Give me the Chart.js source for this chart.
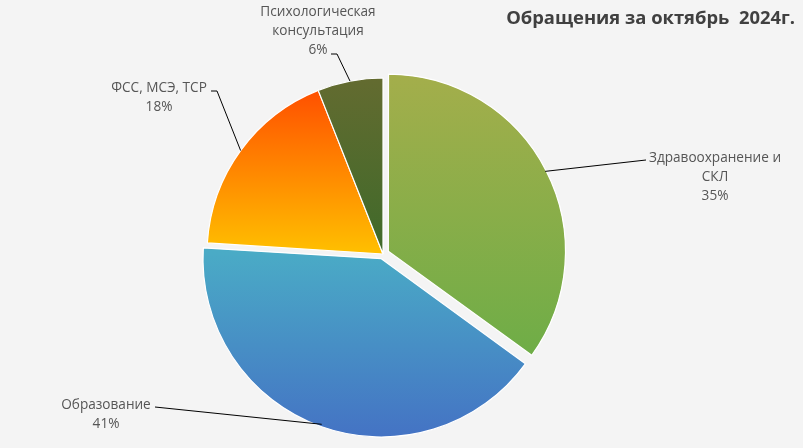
<!DOCTYPE html>
<html>
<head>
<meta charset="utf-8">
<script src="https://cdn.jsdelivr.net/npm/chart.js@4.4.1/dist/chart.umd.min.js"></script>
<style>
    html, body { margin: 0; padding: 0; background: #f4f4f4; }
    #wrap { width: 803px; height: 448px; position: relative; }
</style>
</head>
<body>
<div id="wrap"><canvas id="pie" width="803" height="448"></canvas></div>
<script>
// Chart data
const categories = [['Здравоохранение и', 'СКЛ'], ['Образование'], ['ФСС, МСЭ, ТСР'], ['Психологическая', 'консультация']];
const values = [35, 41, 18, 6];
const title = 'Обращения за октябрь  2024г.';

// Colours (gradient top -> bottom) and explode offsets
const gradTop = ['#a4ae4b', '#4aabc6', '#ff5000', '#636b30'];
const gradBottom = ['#6fad47', '#4472c4', '#ffc000', '#3f6a2a'];
const offsets = [24, 20, 0, 0];
const pieRadius = 176;

// Label layout: text anchor (center x, first line y), elbow point, line end near text
const labelLayout = [
    { x: 715, y: 158, elbow: [646, 160], end: [646, 160] },
    { x: 106, y: 405, elbow: [155, 407], end: [155, 407] },
    { x: 159, y: 88, elbow: [217, 91], end: [211, 91] },
    { x: 318, y: 12, elbow: [337, 54], end: [331, 54] }
];

const font = "'Open Sans', 'DejaVu Sans', sans-serif";

// vertical extent of a slice for the gradient
function sliceGradient(context) {
    const chart = context.chart;
    const area = chart.chartArea;
    const i = context.dataIndex;
    if (!area) return gradBottom[i];
    const total = values.reduce((a, b) => a + b, 0);
    let start = 0;
    for (let k = 0; k < i; k++) start += values[k];
    const a0 = start / total * Math.PI * 2 - Math.PI / 2;
    const a1 = (start + values[i]) / total * Math.PI * 2 - Math.PI / 2;
    const mid = (a0 + a1) / 2;
    const cx = (area.left + area.right) / 2 + Math.cos(mid) * offsets[i] / 4;
    const cy = (area.top + area.bottom) / 2 + Math.sin(mid) * offsets[i] / 4;
    const ys = [cy, cy + Math.sin(a0) * pieRadius, cy + Math.sin(a1) * pieRadius];
    if (a0 < Math.PI / 2 && a1 > Math.PI / 2) ys.push(cy + pieRadius);
    if (a0 < -Math.PI / 2 + 0.0001 || a1 > Math.PI * 1.5) ys.push(cy - pieRadius);
    const g = chart.ctx.createLinearGradient(0, Math.min(...ys), 0, Math.max(...ys));
    g.addColorStop(0, gradTop[i]);
    g.addColorStop(1, gradBottom[i]);
    return g;
}

const labelPlugin = {
    id: 'pieLabels',
    afterDatasetsDraw(chart) {
        const ctx = chart.ctx;
        const meta = chart.getDatasetMeta(0);
        const total = values.reduce((a, b) => a + b, 0);
        ctx.save();
        meta.data.forEach(function(arc, i) {
            const p = arc.getProps(['x', 'y', 'startAngle', 'endAngle', 'outerRadius']);
            const mid = (p.startAngle + p.endAngle) / 2;
            const off = offsets[i] / 4;
            const ax = p.x + Math.cos(mid) * (p.outerRadius + off);
            const ay = p.y + Math.sin(mid) * (p.outerRadius + off);
            const lay = labelLayout[i];
            ctx.strokeStyle = '#000000';
            ctx.lineWidth = 1;
            ctx.beginPath();
            ctx.moveTo(ax, ay);
            ctx.lineTo(lay.elbow[0], lay.elbow[1]);
            ctx.lineTo(lay.end[0], lay.end[1]);
            ctx.stroke();

            const lines = categories[i].concat([Math.round(values[i] / total * 100) + '%']);
            ctx.fillStyle = '#555555';
            ctx.font = '13.6px ' + font;
            ctx.textAlign = 'center';
            ctx.textBaseline = 'middle';
            lines.forEach(function(t, j) {
                ctx.fillText(t, lay.x, lay.y + j * 19);
            });
        });
        // title
        ctx.fillStyle = '#404040';
        ctx.font = 'bold 18.4px ' + font;
        ctx.textAlign = 'right';
        ctx.textBaseline = 'middle';
        ctx.fillText(title, 795, 19);
        ctx.restore();
    }
};

new Chart(document.getElementById('pie'), {
    type: 'pie',
    data: {
        labels: categories,
        datasets: [{
            data: values,
            backgroundColor: sliceGradient,
            borderColor: '#ffffff',
            borderWidth: 1.2,
            offset: offsets,
            radius: pieRadius
        }]
    },
    options: {
        responsive: false,
        animation: false,
        layout: { padding: { left: 0, right: 37, top: 60, bottom: 0 } },
        plugins: {
            legend: { display: false },
            title: { display: false },
            tooltip: { enabled: false }
        }
    },
    plugins: [labelPlugin]
});
</script>
</body>
</html>
